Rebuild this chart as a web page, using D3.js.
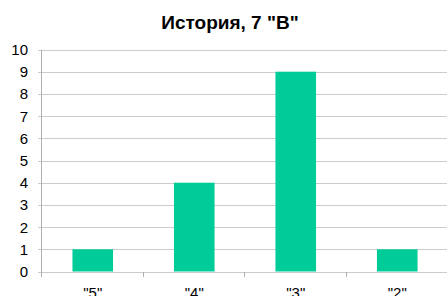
<!DOCTYPE html>
<html>
<head>
<meta charset="utf-8">
<script src="https://cdn.jsdelivr.net/npm/d3@7"></script>
<style>
  body { margin: 0; background: #fff; }
  svg { display: block; font-family: "Liberation Sans", Arial, sans-serif; }
</style>
</head>
<body>
<div id="chart"></div>
<script>
// оценки по предмету
const grades = ['"5"', '"4"', '"3"', '"2"'];
const counts = [1, 4, 9, 1];
const yTicks = [0, 1, 2, 3, 4, 5, 6, 7, 8, 9, 10];
const title = 'История, 7 "В"';

const width = 447, height = 296;
const margin = { top: 49.5, right: -1, bottom: 24.5, left: 42 };

const svg = d3.select("#chart").append("svg")
    .attr("width", width)
    .attr("height", height);

const x = d3.scaleBand()
    .domain(grades)
    .range([margin.left, width - margin.right])
    .paddingInner(0.6)
    .paddingOuter(0.3);

const y = d3.scaleLinear()
    .domain([0, 10])
    .range([height - margin.bottom, margin.top]);

// сетка
svg.append("g")
    .selectAll("line")
    .data(yTicks)
    .enter().append("line")
    .attr("x1", margin.left - 4)
    .attr("x2", width)
    .attr("y1", d => Math.round(y(d)) + 0.5)
    .attr("y2", d => Math.round(y(d)) + 0.5)
    .attr("stroke", "#cccccc");

svg.append("g")
    .selectAll("text")
    .data(yTicks)
    .enter().append("text")
    .attr("x", 28)
    .attr("y", d => y(d))
    .attr("dy", "0.36em")
    .attr("text-anchor", "end")
    .attr("font-size", 15)
    .attr("fill", "#000")
    .text(d => d);

// оси
svg.append("line")
    .attr("x1", margin.left - 0.5).attr("x2", margin.left - 0.5)
    .attr("y1", y(10)).attr("y2", y(0) + 1)
    .attr("stroke", "#b0b0b0");

const bounds = d3.range(grades.length + 1).map(i => margin.left + i * (width - margin.right - margin.left) / grades.length);
svg.append("g")
    .selectAll("line")
    .data(bounds)
    .enter().append("line")
    .attr("x1", d => Math.round(d) - 0.5)
    .attr("x2", d => Math.round(d) - 0.5)
    .attr("y1", Math.round(y(0)))
    .attr("y2", Math.round(y(0)) + 5)
    .attr("stroke", "#b0b0b0");

// столбцы
svg.append("g")
    .selectAll("rect")
    .data(counts)
    .enter().append("rect")
    .attr("x", (d, i) => x(grades[i]))
    .attr("width", x.bandwidth())
    .attr("y", d => y(d))
    .attr("height", d => y(0) - y(d))
    .attr("fill", "#00cc99");

svg.append("g")
    .selectAll("text")
    .data(grades)
    .enter().append("text")
    .attr("x", d => x(d) + x.bandwidth() / 2)
    .attr("y", 298)
    .attr("text-anchor", "middle")
    .attr("font-size", 15)
    .text(d => d);

svg.append("text")
    .attr("x", 230)
    .attr("y", 29)
    .attr("text-anchor", "middle")
    .attr("font-size", 19)
    .attr("font-weight", "bold")
    .text(title);
</script>
</body>
</html>
